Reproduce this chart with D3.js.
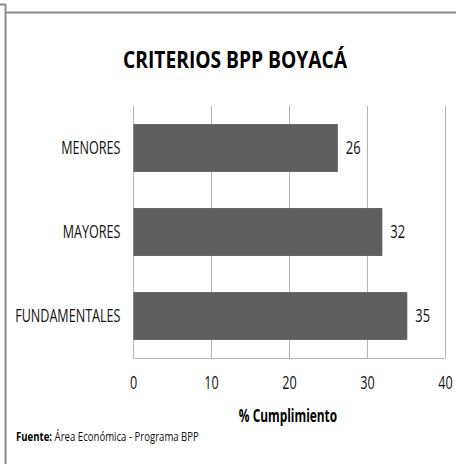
<!DOCTYPE html>
<html>
<head>
<meta charset="utf-8">
<script src="https://cdn.jsdelivr.net/npm/d3@7"></script>
<style>
  body { margin: 0; background: #fff; }
  text { font-family: "Open Sans", sans-serif; }
</style>
</head>
<body>
<div class="canvas"></div>
<script>
// data
const categories = ['MENORES', 'MAYORES', 'FUNDAMENTALES'];
const values = [26.2, 31.9, 35.1];
const ticks = [0, 10, 20, 30, 40];

const width = 456, height = 464;
const plot = { left: 133.5, right: 445.5, top: 106, bottom: 358 };

const svg = d3.select('.canvas')
  .append('svg')
  .attr('width', width)
  .attr('height', height);

// the original uses a narrow font, so squeeze each text horizontally around its own x
const squeeze = (sel, k) => sel.attr('transform', function() {
  const ax = +d3.select(this).attr('x');
  return `translate(${ax},0) scale(${k},1) translate(${-ax},0)`;
});

// frame around the chart (scanned image border)
svg.append('path')
  .attr('d', 'M0,4.5H6 M5.5,4V464 M6,12.5H456')
  .attr('fill', 'none')
  .attr('stroke', '#8a8a8a')
  .attr('stroke-width', 2);

// scales
const x = d3.scaleLinear().domain([0, 40]).range([plot.left, plot.right]);
const y = d3.scaleBand().domain(categories).range([plot.top, plot.bottom]).paddingInner(0.43).paddingOuter(0.215);

// gridlines
svg.append('g')
  .selectAll('line')
  .data(ticks)
  .enter().append('line')
  .attr('x1', d => x(d)).attr('x2', d => x(d))
  .attr('y1', plot.top).attr('y2', plot.bottom)
  .attr('stroke', '#b4b4b4')
  .attr('stroke-width', 1);

// bottom axis line
svg.append('line')
  .attr('x1', plot.left).attr('x2', plot.right)
  .attr('y1', plot.bottom + 0.5).attr('y2', plot.bottom + 0.5)
  .attr('stroke', '#b4b4b4');

// bars
svg.append('g')
  .selectAll('rect')
  .data(categories)
  .enter().append('rect')
  .attr('x', x(0))
  .attr('y', d => y(d))
  .attr('width', (d, i) => x(values[i]) - x(0))
  .attr('height', y.bandwidth())
  .attr('fill', '#5f5f5f');

// value labels
svg.append('g')
  .selectAll('text')
  .data(categories)
  .enter().append('text')
  .attr('x', (d, i) => x(values[i]) + 8)
  .attr('y', d => y(d) + y.bandwidth() / 2)
  .attr('dy', '0.36em')
  .attr('font-size', 18)
  .attr('fill', '#111')
  .text((d, i) => d3.format('.0f')(values[i]))
  .call(squeeze, 0.72);

// category labels
svg.append('g')
  .selectAll('text')
  .data(categories)
  .enter().append('text')
  .attr('x', plot.left - 13)
  .attr('y', d => y(d) + y.bandwidth() / 2)
  .attr('dy', '0.36em')
  .attr('text-anchor', 'end')
  .attr('font-size', 18)
  .attr('fill', '#111')
  .text(d => d)
  .call(squeeze, 0.7);

// x axis tick labels
svg.append('g')
  .selectAll('text')
  .data(ticks)
  .enter().append('text')
  .attr('x', d => x(d))
  .attr('y', 383)
  .attr('dy', '0.36em')
  .attr('text-anchor', 'middle')
  .attr('font-size', 18)
  .attr('fill', '#111')
  .text(d => d)
  .call(squeeze, 0.7);

// axis title
svg.append('text')
  .attr('x', 288)
  .attr('y', 416)
  .attr('dy', '0.36em')
  .attr('text-anchor', 'middle')
  .attr('font-size', 18)
  .attr('font-weight', 'bold')
  .attr('fill', '#000')
  .text('% Cumplimiento')
  .call(squeeze, 0.66);

// chart title
svg.append('text')
  .attr('x', 235)
  .attr('y', 59)
  .attr('dy', '0.36em')
  .attr('text-anchor', 'middle')
  .attr('font-size', 24)
  .attr('font-weight', 'bold')
  .attr('fill', '#000')
  .text('CRITERIOS BPP BOYACÁ')
  .call(squeeze, 0.8);

// source note: bold label followed by the plain text
const src = svg.append('text')
  .attr('x', 16)
  .attr('y', 437)
  .attr('dy', '0.36em')
  .attr('font-size', 12)
  .attr('fill', '#111')
  .call(squeeze, 0.8);
src.append('tspan').attr('font-weight', 'bold').attr('fill', '#000').text('Fuente: ');
src.append('tspan').text('Área Económica - Programa BPP');
</script>
</body>
</html>
